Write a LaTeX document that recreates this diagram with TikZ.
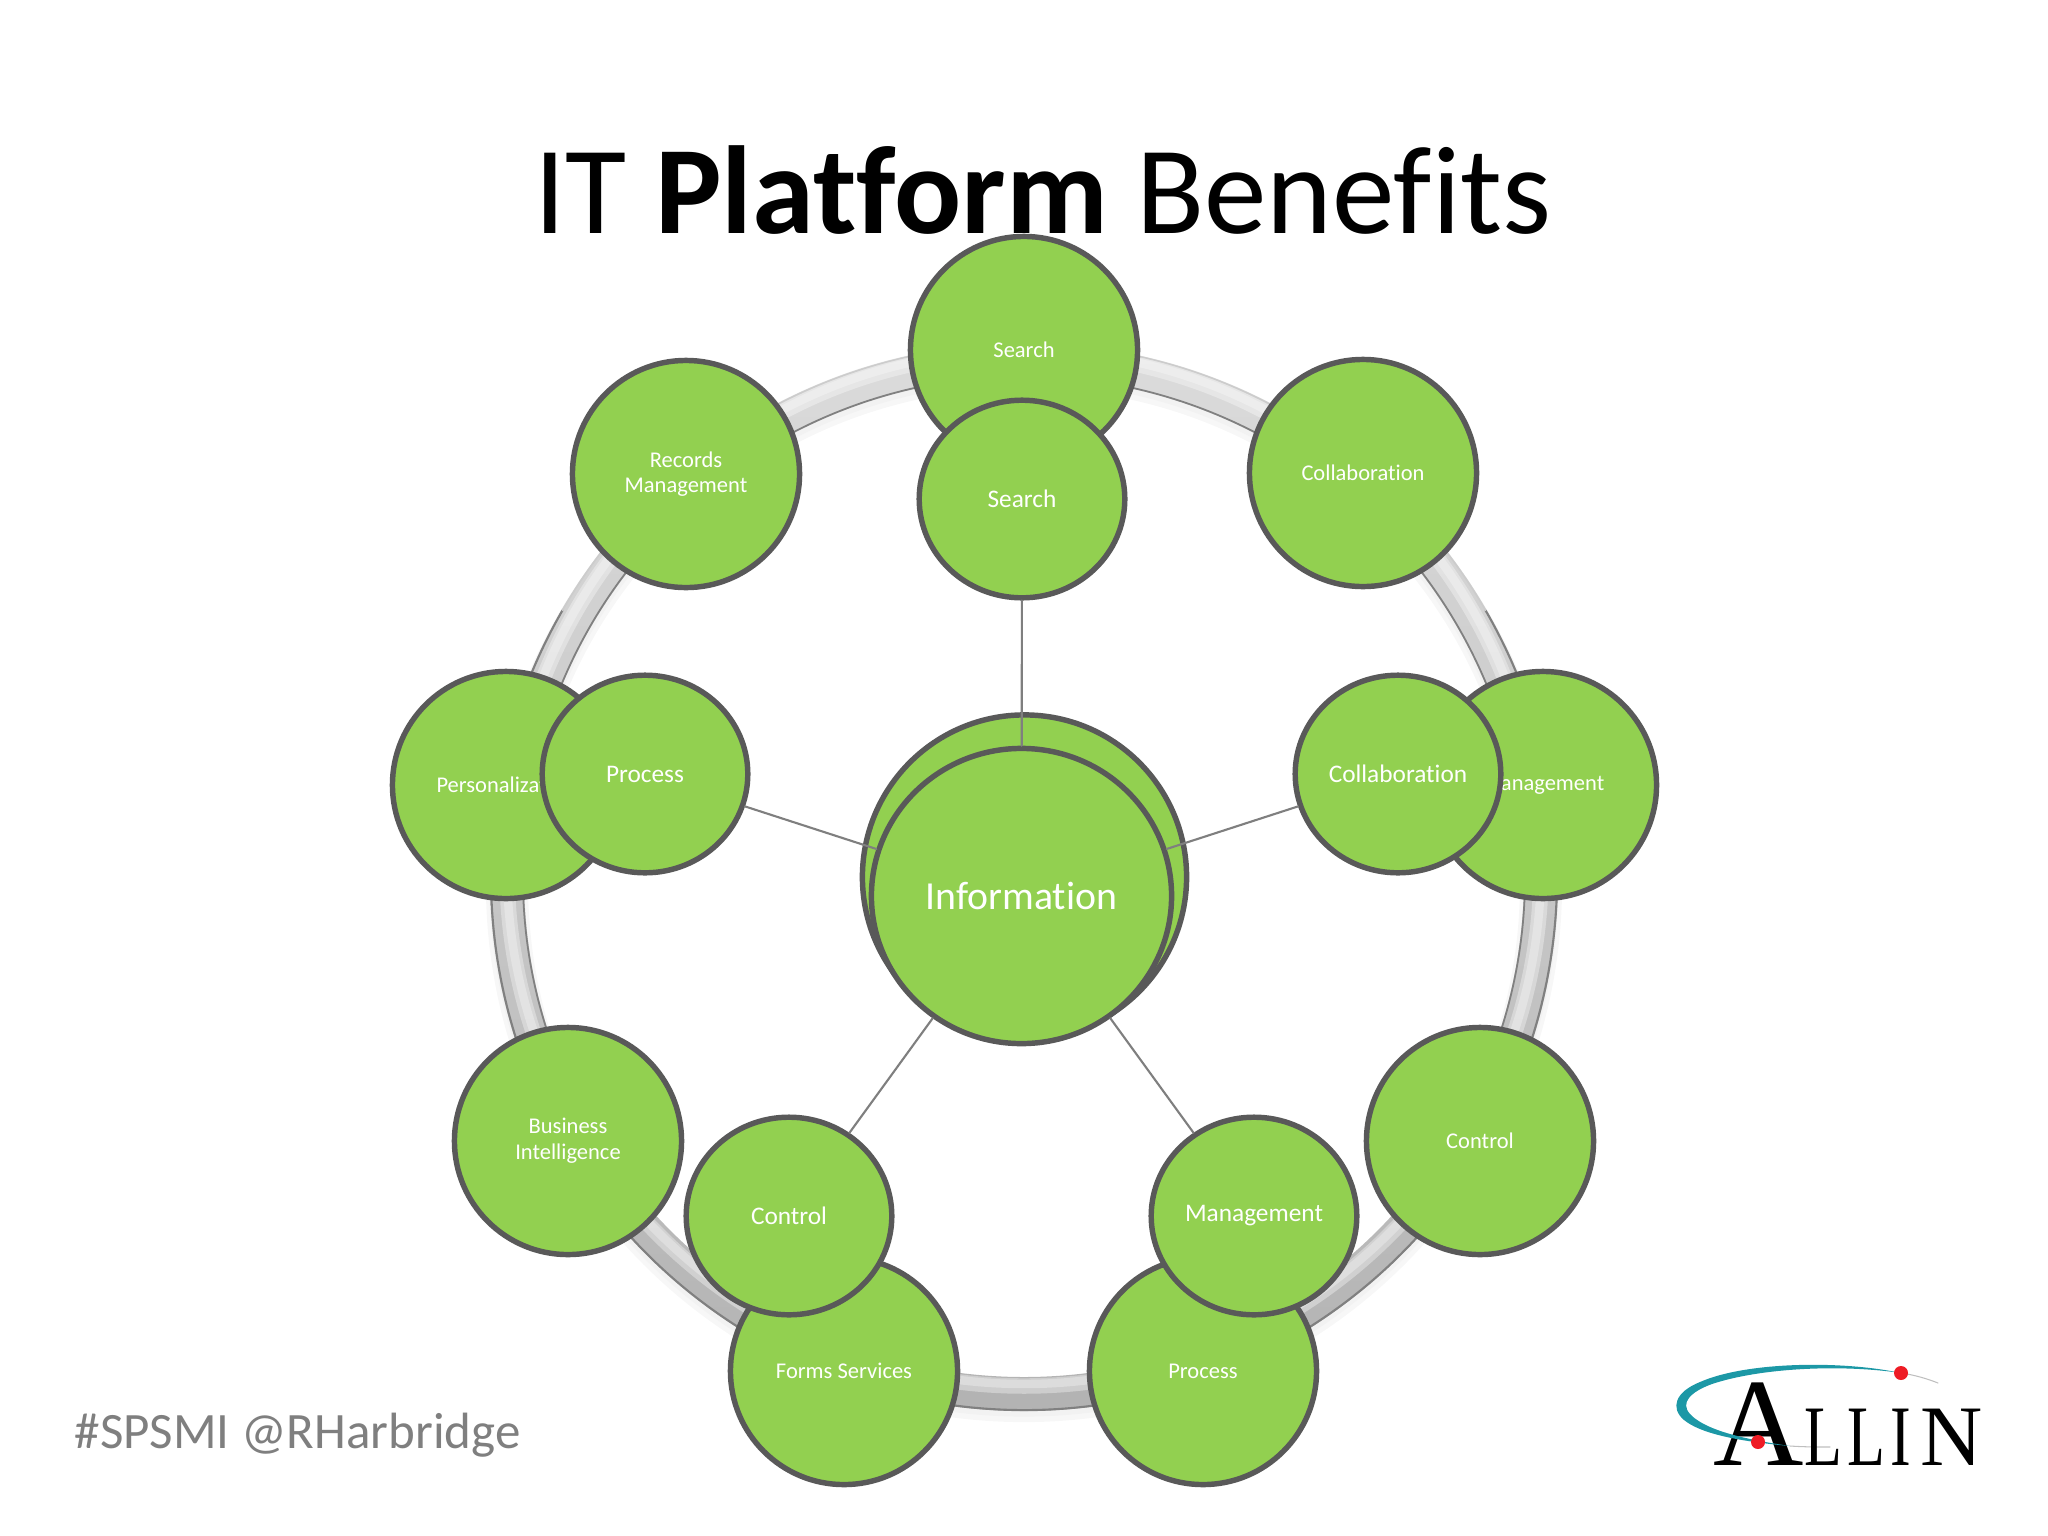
\documentclass[tikz,border=0pt]{standalone}
\usepackage{fontspec}
\usetikzlibrary{shapes.geometric}
\setmainfont[RawFeature={-liga}]{Carlito}
\newfontfamily\logofont{Liberation Serif}
\definecolor{leafgreen}{HTML}{92D050}
\definecolor{rimgray}{HTML}{595959}
\definecolor{linkgray}{HTML}{7F7F7F}
\definecolor{tagtext}{HTML}{7F7F7F}
\definecolor{swoosh}{HTML}{1C98A6}
\definecolor{dotred}{HTML}{EE1C25}
\newcommand{\narrowL}{\scalebox{0.72}[1]{L}}
\tikzset{
	bubble/.style={circle, draw=rimgray, fill=leafgreen, line width=1.55pt, inner sep=0pt, text=white, align=center},
	outerbubble/.style={bubble, minimum size=2.27cm, font=\fontsize{6.4}{7.3}\selectfont},
	innerbubble/.style={bubble, ellipse, minimum width=2.055cm, minimum height=1.975cm, font=\fontsize{7.2}{8.5}\selectfont},
	hubbubble/.style={bubble, font=\fontsize{11.3}{12}\selectfont},
	link/.style={draw=linkgray, line width=0.6pt},
	logotext/.style={inner sep=0pt, anchor=base, text=black},
}
\begin{document}
\begin{tikzpicture}[x=0.01cm, y=-0.01cm, line join=round, line cap=round]
	\useasboundingbox (0,0) rectangle (2048,1536);
	\node[inner sep=0pt, anchor=base] (title) at (1043,233) {\fontsize{35.6}{40}\selectfont IT \textbf{Platform} Benefits};
	% ring behind the bubbles
	\coordinate (ringc) at (1024,877);
	\draw[black!3, line width=12pt] (1024,884) circle (517);
	\draw[black!5, line width=10pt] (1024,882) circle (517);
	\shade[even odd rule, top color=black!14, bottom color=black!30] (ringc) circle (534) (ringc) circle (500);
	\begin{scope}[even odd rule]
		\clip (ringc) circle (534) (ringc) circle (500);
		\draw[white, opacity=0.35, line width=4.4pt] (1024,869) circle (517);
		\draw[white, opacity=0.3, line width=2.4pt] (1024,867) circle (517);
	\end{scope}
	% dark edges, inner one over the top and sides, outer one under and at the sides
	\draw[black!50, line width=0.5pt] (ringc) ++(150:501) arc (150:390:501);
	\draw[black!50, line width=0.6pt] (ringc) ++(-30:533) arc (-30:210:533);
	\draw[black!20, line width=0.4pt] (ringc) ++(210:533) arc (210:330:533);
	% outer bubbles
	\foreach \n/\x/\y/\t in {srchout/1024/350/Search, collout/1363/473/Collaboration, mgmtout/1543/785/Management, ctrlout/1480/1141/Control, procout/1203/1371/Process, formout/844/1371/Forms Services, biout/568/1141/{Business\\Intelligence}, persout/506/785/Personalization, recout/686/474/{Records\\Management}}
		\node[outerbubble] (\n) at (\x,\y) {\t};
	% hub
	\node[hubbubble, minimum size=3.24cm] (hubback) at (1024.5,877) {};
	\node[hubbubble, ellipse, minimum width=3cm, minimum height=2.95cm] (hub) at (1021.5,896) {Information};
	% inner bubbles
	\foreach \n/\x/\y/\t in {srchin/1022/499/Search, procin/645/774/Process, collin/1398/774/Collaboration, ctrlin/789/1216/Control, mgmtin/1254/1216/Management}
		\node[innerbubble] (\n) at (\x,\y) {\t};
	\foreach \n in {srchin,procin,collin,ctrlin,mgmtin}
		\draw[link] (hub)--(\n);
	% footer
	\node[inner sep=0pt, anchor=base west, text=tagtext] (tag) at (74,1448) {\fontsize{14.5}{16}\selectfont \#SPSMI @RHarbridge};
	% logo
	\draw[black!25, line width=0.3pt] (1901,1373) .. controls (1915,1375) and (1928,1379) .. (1938,1383);
	\draw[black!25, line width=0.3pt] (1790,1446) .. controls (1805,1447) and (1818,1447) .. (1830,1447);
	\node[logotext] (logoA) at (1759,1465) {\logofont\fontsize{35.6}{36}\selectfont A};
	\node[logotext] (logoL) at (1823,1465) {\logofont\fontsize{24.5}{25}\selectfont\narrowL};
	\node[logotext] (logoLL) at (1866,1465) {\logofont\fontsize{24.5}{25}\selectfont\narrowL};
	\node[logotext] (logoI) at (1901,1465) {\logofont\fontsize{24.5}{25}\selectfont\scalebox{0.72}[1]{I}};
	\node[logotext] (logoN) at (1952,1465) {\logofont\fontsize{24.5}{25}\selectfont N};
	\fill[swoosh] (1901,1373) .. controls (1840,1360) and (1745,1362) .. (1700,1382)
		.. controls (1675,1392) and (1670,1408) .. (1684,1420)
		.. controls (1700,1433) and (1735,1441) .. (1790,1446)
		.. controls (1735,1438) and (1703,1428) .. (1690,1414)
		.. controls (1680,1403) and (1690,1392) .. (1712,1384)
		.. controls (1760,1368) and (1840,1364) .. (1901,1373) -- cycle;
	\fill[dotred] (1901,1373) circle (7);
	\fill[dotred] (1758,1442) circle (7);
\end{tikzpicture}
\end{document}
